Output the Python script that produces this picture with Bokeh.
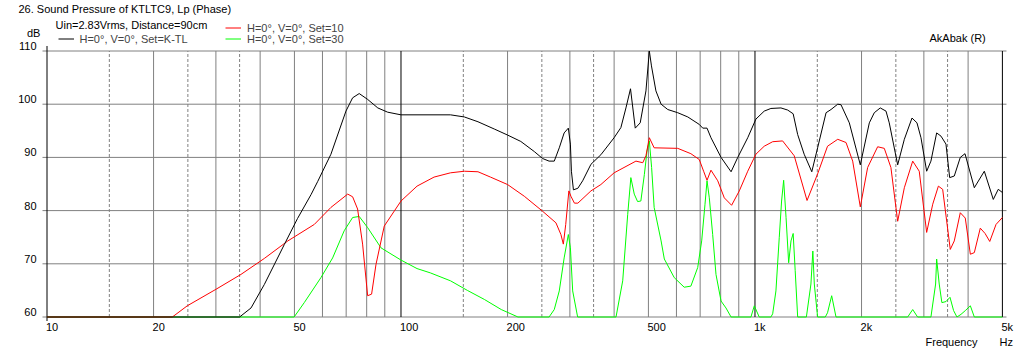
from bokeh.plotting import figure
from bokeh.models import Range1d, Label, Legend, LegendItem
from bokeh.core.properties import value
from bokeh.embed import file_html
from bokeh.resources import INLINE

# ---------------- data ----------------
black_f = [10, 35, 37.7, 41.1, 46.8, 51.0, 55.7, 58.2, 63.4, 69.9, 73.0, 76.2, 80.5, 86.0, 91.7,
           100, 138, 151, 165, 184, 200, 218, 238, 251, 262, 271, 280, 289, 297, 301, 303, 307,
           316, 326, 344, 367, 400, 418, 432, 445, 459, 474, 492, 503, 510, 525, 543, 567, 605,
           646, 696, 712, 732, 751, 802, 856, 894, 954, 1006, 1062, 1109, 1184, 1237, 1282, 1320,
           1377, 1447, 1503, 1588, 1640, 1713, 1750, 1847, 1984, 2104, 2173, 2259, 2345, 2395,
           2530, 2642, 2777, 2868, 2944, 3055, 3141, 3260, 3353, 3464, 3548, 3656, 3802, 3920,
           4165, 4445, 4712, 4867, 5000]
black_db = [60, 60, 61.7, 66.1, 73.6, 78.5, 83.0, 85.5, 90.6, 98.7, 101.2, 102.0, 100.9, 99.3, 98.5,
            98.0, 98.0, 97.6, 96.7, 95.3, 94.2, 93.0, 91.1, 89.8, 89.3, 89.3, 91.8, 94.6, 95.5, 92.5,
            87.4, 83.9, 84.2, 85.6, 88.7, 90.5, 93.7, 95.6, 99.3, 102.9, 95.5, 96.5, 102.5, 110.0,
            107.2, 102.5, 100.0, 99.0, 98.4, 97.6, 96.2, 95.5, 95.5, 93.7, 90.0, 87.3, 90.0, 93.7,
            97.2, 98.7, 99.2, 99.3, 98.9, 98.2, 94.3, 90.6, 87.3, 91.8, 98.4, 99.0, 100.0, 99.9,
            96.5, 88.6, 96.5, 98.4, 99.3, 98.7, 96.5, 88.6, 93.4, 97.4, 96.5, 93.7, 87.4, 89.3,
            94.6, 94.0, 92.5, 86.2, 86.5, 90.0, 90.7, 84.3, 87.4, 82.1, 84.0, 83.4]

red_f = [10, 22.6, 24.9, 30, 35.3, 41.1, 47.9, 56.9, 63.4, 67.7, 70.7, 73.0, 75.4, 77.9, 80.5, 82.6,
         85.0, 89.7, 100, 111, 124, 138, 151, 165, 179, 200, 223, 251, 274, 283, 287.5, 292, 298,
         302, 309, 316, 344, 367, 400, 461, 482, 492, 503, 519, 605, 659, 696, 716, 732, 751, 785,
         819, 859, 903, 954, 1006, 1062, 1122, 1197, 1291, 1403, 1503, 1603, 1713, 1808, 1888,
         1984, 2081, 2221, 2319, 2421, 2530, 2642, 2790, 2911, 3055, 3178, 3297, 3390, 3562, 3656,
         3802, 3927, 4059, 4165, 4330, 4467, 4605, 4797, 5000]
red_db = [60, 60, 62.1, 65.2, 68.0, 71.0, 74.3, 77.4, 80.6, 82.1, 83.1, 82.6, 80.3, 73.7, 64.0, 64.3,
          69.9, 77.1, 81.8, 84.6, 86.3, 87.1, 87.4, 87.3, 86.3, 84.9, 82.7, 79.9, 77.7, 75.5, 73.7,
          77.4, 83.7, 82.7, 81.4, 81.4, 83.7, 84.9, 87.1, 89.3, 89.0, 90.3, 93.7, 91.8, 91.7, 90.7,
          89.6, 87.4, 85.7, 87.6, 85.6, 82.4, 81.0, 83.7, 87.4, 90.6, 92.1, 92.95, 93.1, 90.3, 81.9,
          86.9, 92.1, 93.4, 92.8, 89.3, 80.7, 88.1, 92.0, 91.7, 88.1, 78.0, 84.3, 89.3, 87.4, 75.9,
          81.2, 84.6, 84.0, 72.7, 74.3, 79.6, 78.6, 71.8, 72.1, 76.7, 75.7, 74.2, 77.4, 78.7]

green_f = [10, 49.9, 53.3, 59.4, 64.1, 69.1, 73.0, 76.2, 80.5, 87.8, 100, 111, 121, 138, 154, 172,
           192, 214, 262, 271, 280, 289, 297, 301, 305.5, 315.5, 405, 423, 437, 446, 456, 466, 476,
           487, 495.5, 503, 510.5, 519, 543, 554.5, 591.5, 631, 659, 689, 707, 722.5, 732, 743,
           759.5, 776, 802, 828, 856, 974, 995.5, 1028, 1109, 1122, 1146, 1171, 1189, 1205, 1224,
           1245, 1264, 1282, 1299, 1320, 1397, 1439, 1457, 1471, 1503, 1580, 1603, 1647, 1694,
           2700, 2790, 2880, 3141, 3238, 3260, 3315, 3373, 3464, 3556, 3640, 3720, 3820, 3927,
           4059, 4165, 5000]
green_db = [60, 60, 62.7, 67.4, 71.1, 76.2, 78.7, 78.9, 76.8, 73.0, 70.7, 69.1, 68.3, 66.8, 65.0, 63.3,
            61.4, 60, 60, 61.4, 64.9, 71.1, 75.5, 73.0, 64.9, 60, 60, 66.8, 79.3, 86.2, 83.1, 81.7,
            81.8, 86.8, 91.2, 93.1, 88.1, 80.6, 74.3, 70.9, 67.4, 65.6, 65.8, 69.3, 74.3, 81.2, 85.6,
            82.4, 75.5, 68.0, 63.0, 61.7, 60, 60, 62.1, 60, 60, 60.6, 64.9, 74.9, 81.8, 85.7, 78.7,
            70.2, 74.3, 75.7, 68.7, 60, 60, 66.2, 72.4, 66.2, 60, 60, 60.8, 64.0, 60, 60, 61.4, 60,
            60, 66.2, 70.9, 66.2, 62.7, 62.9, 63.7, 61.2, 60, 60.5, 61.2, 62.1, 60, 60]

x_ticks = [10, 20, 50, 100, 200, 500, 1000, 2000, 5000]
x_tick_labels = ["10", "20", "50", "100", "200", "500", "1k", "2k", "5k"]
y_ticks = [60, 70, 80, 90, 100, 110]
y_tick_labels = ["60", "70", "80", "90", "100", "110"]
grid_black = [10, 100, 1000, 5000]
grid_solid = [20, 30, 40, 50, 60, 70, 80, 90, 200, 300, 400, 500, 600, 700, 800, 900,
              2000, 3000, 4000]
grid_dashed = [15, 25, 35, 150, 250, 350, 1500, 2500, 3500]

title_text = "26. Sound Pressure of KTLTC9, Lp (Phase)"
info_text = "Uin=2.83Vrms, Distance=90cm"
label_black = "H=0°, V=0°, Set=K-TL"
label_red = "H=0°, V=0°, Set=10"
label_green = "H=0°, V=0°, Set=30"

FONT = "Liberation Sans"
FS = "11px"
GRAY = "#808080"
W, H = 1028, 353

# plot region extents (frequency / dB of the gridline ends)
F_LEFT, F_RIGHT = 9.7116, 5134.9
DB_MIN, DB_MAX = 60, 110

# ---------------- figure (frame covers the whole canvas) ----------------
p = figure(width=W, height=H, title=None, x_axis_type="log",
           x_range=Range1d(7.3897, 5925.0), y_range=Range1d(53.1391, 119.4925),
           output_backend="svg", toolbar_location=None,
           min_border_left=0, min_border_right=0, min_border_top=0, min_border_bottom=0)
p.outline_line_color = None
p.xgrid.visible = False
p.ygrid.visible = False
p.xaxis.visible = False
p.yaxis.visible = False
p.background_fill_color = "white"
p.border_fill_color = "white"

# grid
n = len(y_ticks)
p.segment(x0=[F_LEFT] * n, y0=y_ticks, x1=[F_RIGHT] * n, y1=y_ticks, line_color=GRAY, line_width=1)
p.segment(x0=grid_solid, y0=[DB_MIN] * len(grid_solid), x1=grid_solid, y1=[DB_MAX] * len(grid_solid),
          line_color=GRAY, line_width=1)
p.segment(x0=grid_dashed, y0=[DB_MIN] * len(grid_dashed), x1=grid_dashed,
          y1=[DB_MAX] * len(grid_dashed), line_color=GRAY, line_width=1, line_dash="3 2")
p.segment(x0=grid_black[1:], y0=[DB_MIN] * 3, x1=grid_black[1:], y1=[DB_MAX] * 3,
          line_color="black", line_width=1)
p.segment(x0=[grid_black[0]], y0=[DB_MIN - 0.75], x1=[grid_black[0]], y1=[DB_MAX + 0.94],
          line_color="black", line_width=1)

# tick labels
p.text(x=x_ticks, y=[DB_MIN] * len(x_ticks), text=x_tick_labels, x_offset=-1, y_offset=10,
       text_align="left", text_baseline="middle", text_font=value(FONT),
       text_font_size=FS, text_color="black")
p.text(x=[10] * len(y_ticks), y=y_ticks, text=y_tick_labels, x_offset=-10.5, y_offset=-5,
       text_align="right", text_baseline="middle", text_font=value(FONT),
       text_font_size=FS, text_color="black")

# curves
r_green = p.line(green_f, green_db, line_color="#00ff00", line_width=1)
r_red = p.line(red_f, red_db, line_color="#ff0000", line_width=1)
r_black = p.line(black_f, black_db, line_color="black", line_width=1)


def lab(text, px, py_mid):
    p.add_layout(Label(x=px, y=H - py_mid, x_units="screen", y_units="screen", text=text,
                       text_font=FONT, text_font_size=FS, text_color="black",
                       text_baseline="middle", text_align="left"))


lab(title_text, 18, 8.3)
lab(info_text, 55, 24)
lab("dB", 26.5, 32)
lab("AkAbak (R)", 929, 37)
lab("Frequency", 925, 341)
lab("Hz", 999, 341)


def legend(item, px, py_bottom):
    lg = Legend(items=[item], location=(px, H - py_bottom), padding=0, margin=0, spacing=0,
                glyph_width=16, glyph_height=11, label_height=11, label_standoff=6,
                label_text_font=FONT, label_text_font_size=FS, border_line_color=None,
                background_fill_alpha=0)
    p.add_layout(lg)


legend(LegendItem(label=label_black, renderers=[r_black]), 57.5, 44.5)
legend(LegendItem(label=label_red, renderers=[r_red]), 225, 33.5)
legend(LegendItem(label=label_green, renderers=[r_green]), 225, 44.5)

open("out.html", "w").write(file_html(p, INLINE))
